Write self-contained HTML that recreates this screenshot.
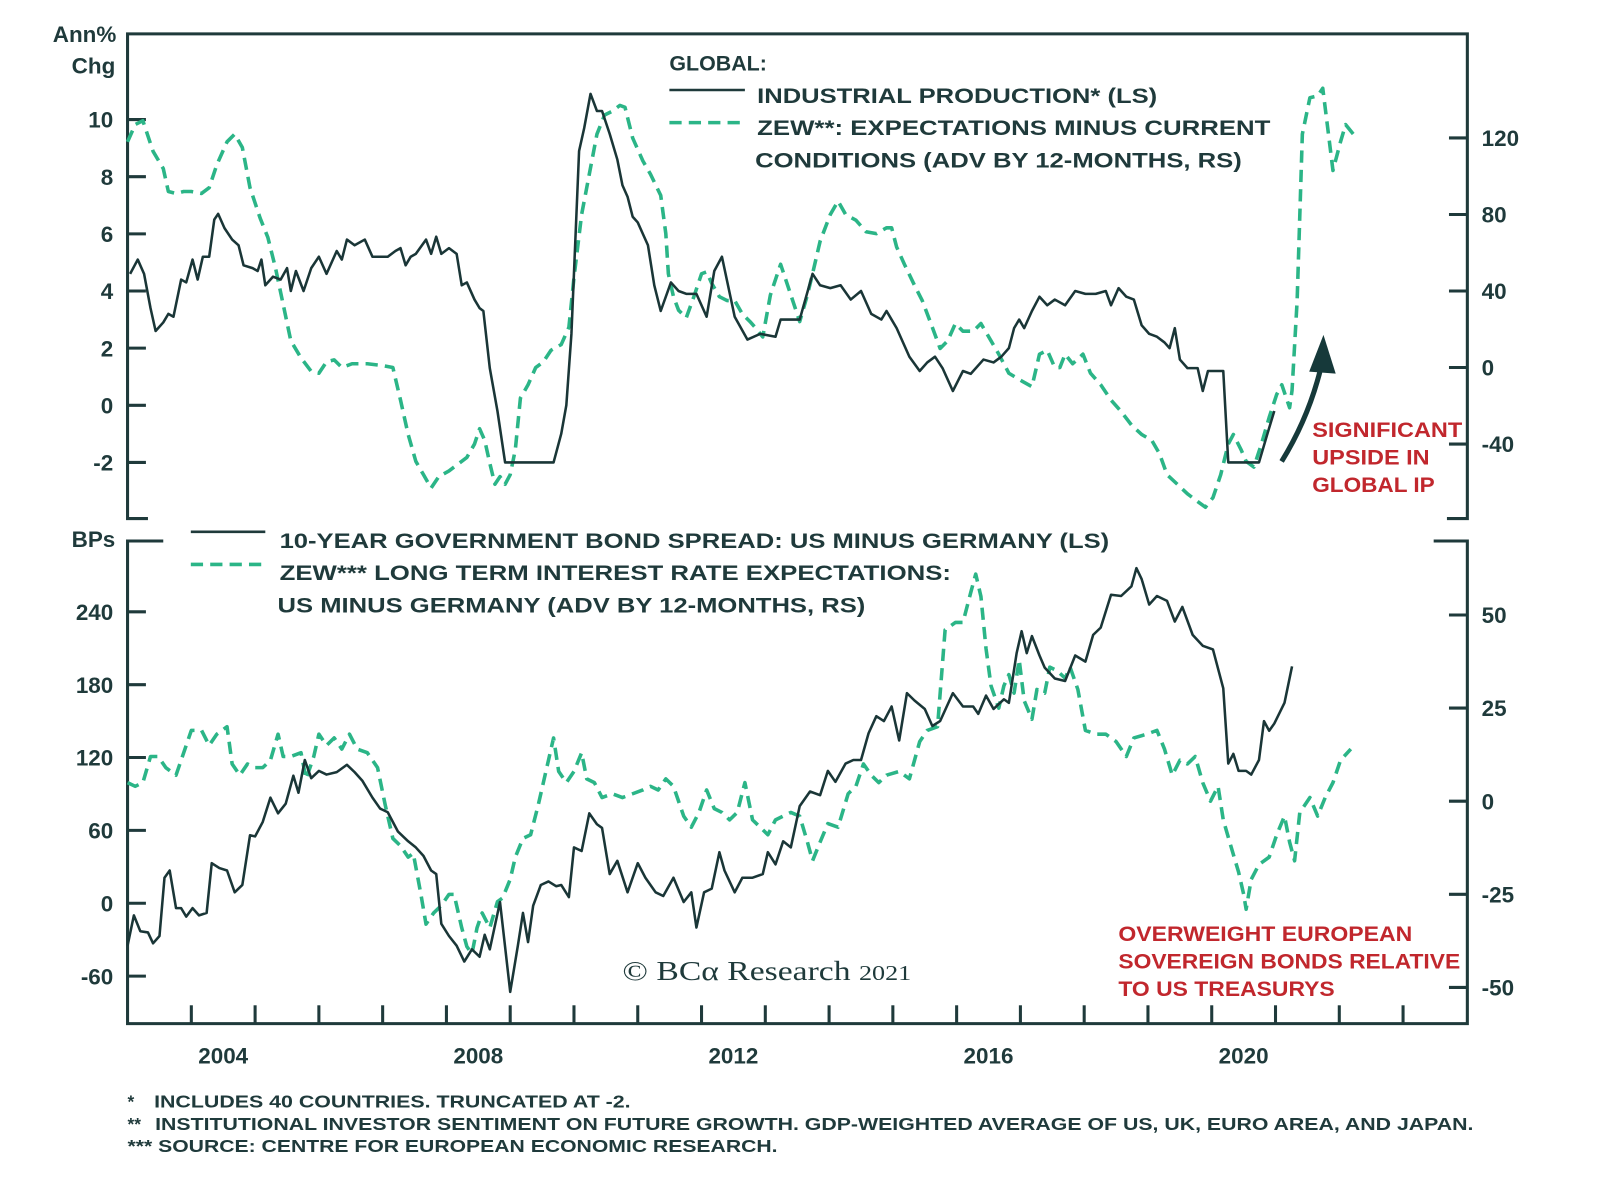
<!DOCTYPE html>
<html><head><meta charset="utf-8"><style>
html,body{margin:0;padding:0;background:#fff;}
svg{display:block;}
text{font-family:"Liberation Sans",Arial,sans-serif;font-weight:bold;fill:#1f3a3b;}
.red{fill:#c1272d;}
</style></head><body>
<svg id="chart" width="1600" height="1182" viewBox="0 0 1568 1158" xmlns="http://www.w3.org/2000/svg">
<g id="frame" stroke="#1f3a3b" stroke-width="3" fill="none">
  <path d="M145 508 H125 V33 H1438 V508 H1418"/>
  <path d="M160 530 H125 V1003 H1438 V530 H1405"/>
</g>
<g id="ticks" stroke="#1f3a3b" stroke-width="3"></g>
<g id="labels" font-size="22"></g>
<g id="series" fill="none"></g>

<text x="114" y="41" font-size="22" text-anchor="end">Ann%</text>
<text x="113" y="72" font-size="22" text-anchor="end">Chg</text>
<text x="113" y="536" font-size="22" text-anchor="end">BPs</text>

<g font-size="21">
  <text x="656" y="69">GLOBAL:</text>
  <line x1="656" y1="88" x2="730" y2="88" stroke="#1f3a3b" stroke-width="2.5"/>
  <text x="742" y="101" textLength="392" lengthAdjust="spacingAndGlyphs">INDUSTRIAL PRODUCTION* (LS)</text>
  <line x1="656" y1="120" x2="730" y2="120" stroke="#2bb587" stroke-width="3.5" stroke-dasharray="12 7"/>
  <text x="742" y="132" textLength="503" lengthAdjust="spacingAndGlyphs">ZEW**: EXPECTATIONS MINUS CURRENT</text>
  <text x="740" y="164" textLength="477" lengthAdjust="spacingAndGlyphs">CONDITIONS (ADV BY 12-MONTHS, RS)</text>
</g>
<g font-size="21">
  <line x1="187" y1="521" x2="260" y2="521" stroke="#1f3a3b" stroke-width="2.5"/>
  <text x="274" y="537" textLength="813" lengthAdjust="spacingAndGlyphs">10-YEAR GOVERNMENT BOND SPREAD: US MINUS GERMANY (LS)</text>
  <line x1="187" y1="553" x2="260" y2="553" stroke="#2bb587" stroke-width="3.5" stroke-dasharray="12 7"/>
  <text x="274" y="568" textLength="658" lengthAdjust="spacingAndGlyphs">ZEW*** LONG TERM INTEREST RATE EXPECTATIONS:</text>
  <text x="272" y="600" textLength="576" lengthAdjust="spacingAndGlyphs">US MINUS GERMANY (ADV BY 12-MONTHS, RS)</text>
</g>

<g font-size="21">
  <path d="M1256 452 Q1282 410 1294 362" stroke="#16393a" stroke-width="5" fill="none"/>
  <polygon points="1297,328 1283,364 1309,366" fill="#16393a"/>
  <text class="red" x="1286" y="428" textLength="147" lengthAdjust="spacingAndGlyphs">SIGNIFICANT</text>
  <text class="red" x="1286" y="455" textLength="115" lengthAdjust="spacingAndGlyphs">UPSIDE IN</text>
  <text class="red" x="1286" y="482" textLength="120" lengthAdjust="spacingAndGlyphs">GLOBAL IP</text>
</g>
<g font-size="21">
  <text class="red" x="1096" y="922" textLength="288" lengthAdjust="spacingAndGlyphs">OVERWEIGHT EUROPEAN</text>
  <text class="red" x="1096" y="949" textLength="335" lengthAdjust="spacingAndGlyphs">SOVEREIGN BONDS RELATIVE</text>
  <text class="red" x="1096" y="976" textLength="212" lengthAdjust="spacingAndGlyphs">TO US TREASURYS</text>
</g>
<text x="610" y="960" font-size="27" style="font-family:'Liberation Serif',serif;font-weight:normal" textLength="283" lengthAdjust="spacingAndGlyphs">© BCα Research <tspan font-size="21">2021</tspan></text>

<g font-size="17" style="font-weight:bold">
  <text x="125" y="1085">*</text>
  <text x="151" y="1085" textLength="467" lengthAdjust="spacingAndGlyphs">INCLUDES 40 COUNTRIES. TRUNCATED AT -2.</text>
  <text x="125" y="1107">**</text>
  <text x="152" y="1107" textLength="1292" lengthAdjust="spacingAndGlyphs">INSTITUTIONAL INVESTOR SENTIMENT ON FUTURE GROWTH. GDP-WEIGHTED AVERAGE OF US, UK, EURO AREA, AND JAPAN.</text>
  <text x="125" y="1129" textLength="637" lengthAdjust="spacingAndGlyphs">*** SOURCE: CENTRE FOR EUROPEAN ECONOMIC RESEARCH.</text>
</g>
</svg>
<script>
// ---- data ----
const ipDates=[2003.04,2003.16,2003.26,2003.36,2003.44,2003.56,2003.64,2003.72,2003.84,2003.92,2004.02,2004.10,2004.18,2004.28,2004.36,2004.42,2004.52,2004.64,2004.74,2004.82,2004.96,2005.04,2005.10,2005.16,2005.28,2005.40,2005.50,2005.56,2005.64,2005.76,2005.88,2006.0,2006.12,2006.28,2006.36,2006.44,2006.56,2006.72,2006.84,2007.08,2007.20,2007.28,2007.36,2007.44,2007.52,2007.68,2007.76,2007.84,2007.92,2008.04,2008.16,2008.24,2008.32,2008.44,2008.52,2008.58,2008.68,2008.80,2008.92,2009.68,2009.80,2009.88,2009.96,2010.08,2010.16,2010.26,2010.36,2010.44,2010.56,2010.68,2010.76,2010.84,2010.92,2011.0,2011.08,2011.16,2011.26,2011.36,2011.52,2011.64,2011.76,2011.92,2012.08,2012.20,2012.32,2012.52,2012.72,2012.92,2013.16,2013.24,2013.54,2013.74,2013.86,2014.02,2014.18,2014.34,2014.50,2014.66,2014.82,2014.90,2015.06,2015.26,2015.42,2015.54,2015.66,2015.78,2015.94,2016.10,2016.22,2016.42,2016.58,2016.70,2016.82,2016.90,2016.98,2017.06,2017.18,2017.30,2017.42,2017.54,2017.70,2017.86,2018.02,2018.18,2018.34,2018.42,2018.54,2018.66,2018.78,2018.90,2019.02,2019.14,2019.26,2019.34,2019.42,2019.50,2019.62,2019.78,2019.86,2019.94,2020.18,2020.26,2020.74,2020.86,2020.98];
const ipValues=[4.6,5.1,4.6,3.4,2.6,2.9,3.2,3.1,4.4,4.3,5.1,4.4,5.2,5.2,6.5,6.7,6.2,5.8,5.6,4.9,4.8,4.7,5.1,4.2,4.5,4.4,4.8,4.0,4.7,4.0,4.8,5.2,4.6,5.4,5.1,5.8,5.6,5.8,5.2,5.2,5.4,5.5,4.9,5.2,5.3,5.8,5.3,5.9,5.3,5.5,5.3,4.2,4.3,3.7,3.4,3.3,1.3,-0.2,-2,-2,-1,0,2.5,8.9,9.7,10.9,10.3,10.3,9.5,8.6,7.7,7.3,6.6,6.4,6.0,5.6,4.2,3.3,4.3,4.0,3.9,3.9,3.1,4.7,5.2,3.1,2.3,2.5,2.4,3.0,3.0,4.6,4.2,4.1,4.2,3.7,4.0,3.2,3.0,3.3,2.7,1.7,1.2,1.5,1.7,1.3,0.5,1.2,1.1,1.6,1.5,1.7,2.0,2.7,3.0,2.7,3.3,3.8,3.5,3.7,3.5,4.0,3.9,3.9,4.0,3.5,4.1,3.8,3.7,2.8,2.5,2.4,2.2,2.0,2.7,1.6,1.3,1.3,0.5,1.2,1.2,-2,-2,-1.1,-0.2];
const zewDates=[2003.0,2003.12,2003.24,2003.40,2003.56,2003.64,2003.76,2003.88,2004.0,2004.16,2004.28,2004.40,2004.56,2004.68,2004.80,2004.92,2005.08,2005.20,2005.32,2005.44,2005.56,2005.72,2005.88,2006.0,2006.12,2006.24,2006.36,2006.52,2006.76,2007.0,2007.16,2007.28,2007.40,2007.52,2007.64,2007.76,2007.88,2008.04,2008.20,2008.32,2008.44,2008.52,2008.60,2008.68,2008.76,2008.84,2008.92,2009.0,2009.08,2009.16,2009.28,2009.40,2009.52,2009.64,2009.80,2009.92,2010.0,2010.12,2010.24,2010.36,2010.48,2010.60,2010.72,2010.80,2010.92,2011.08,2011.20,2011.36,2011.44,2011.48,2011.56,2011.64,2011.76,2011.88,2012.0,2012.08,2012.16,2012.28,2012.40,2012.52,2012.64,2012.76,2012.84,2012.96,2013.08,2013.24,2013.54,2013.66,2013.74,2013.86,2014.02,2014.14,2014.26,2014.42,2014.58,2014.74,2014.90,2014.98,2015.06,2015.18,2015.34,2015.46,2015.62,2015.74,2015.86,2015.98,2016.10,2016.26,2016.38,2016.54,2016.66,2016.82,2017.02,2017.18,2017.30,2017.42,2017.54,2017.62,2017.70,2017.82,2017.98,2018.10,2018.26,2018.42,2018.58,2018.74,2018.90,2019.06,2019.18,2019.30,2019.46,2019.62,2019.78,2019.90,2020.02,2020.14,2020.26,2020.34,2020.46,2020.54,2020.66,2020.78,2020.90,2021.02,2021.10,2021.22,2021.26,2021.34,2021.42,2021.54,2021.66,2021.74,2021.82,2021.90,2022.02,2022.10,2022.22];
const zewValues=[118,127,129,113,104,92,91,92,92,91,94,106,118,122,115,94,78,68,52,33,14,5,-2,-3,3,4,0,2,2,1,0,-17,-35,-49,-56,-63,-57,-54,-50,-47,-40,-32,-38,-50,-61,-57,-61,-56,-43,-16,-9,0,3,9,12,21,47,80,101,122,132,134,137,136,120,108,101,90,70,49,37,30,26,37,49,50,44,37,35,35,28,24,21,16,38,54,24,38,49,66,80,87,80,77,71,70,73,73,63,54,43,35,21,10,14,23,19,19,23,14,7,-3,-7,-10,7,9,0,0,7,2,7,-3,-9,-17,-23,-30,-35,-38,-45,-56,-61,-66,-70,-73,-68,-56,-40,-35,-43,-49,-52,-40,-26,-14,-9,-21,-12,35,122,141,142,146,125,103,118,127,122];
const spreadDates=[2003.0,2003.10,2003.20,2003.32,2003.40,2003.50,2003.58,2003.66,2003.76,2003.84,2003.92,2004.02,2004.12,2004.24,2004.32,2004.44,2004.56,2004.68,2004.80,2004.92,2005.0,2005.12,2005.24,2005.36,2005.48,2005.60,2005.68,2005.78,2005.88,2006.0,2006.12,2006.28,2006.44,2006.56,2006.68,2006.84,2006.96,2007.08,2007.24,2007.40,2007.52,2007.64,2007.76,2007.84,2007.92,2008.04,2008.16,2008.28,2008.40,2008.52,2008.60,2008.68,2008.84,2009.0,2009.12,2009.20,2009.28,2009.36,2009.48,2009.60,2009.72,2009.80,2009.92,2010.0,2010.12,2010.24,2010.36,2010.44,2010.56,2010.68,2010.84,2011.0,2011.12,2011.28,2011.40,2011.56,2011.72,2011.84,2011.92,2012.04,2012.16,2012.28,2012.36,2012.52,2012.64,2012.80,2012.96,2013.04,2013.16,2013.28,2013.40,2013.54,2013.70,2013.86,2013.98,2014.10,2014.26,2014.38,2014.50,2014.62,2014.74,2014.86,2014.98,2015.10,2015.22,2015.34,2015.50,2015.62,2015.74,2015.94,2016.10,2016.26,2016.34,2016.46,2016.58,2016.74,2016.82,2016.94,2017.02,2017.10,2017.18,2017.30,2017.38,2017.54,2017.70,2017.86,2018.02,2018.14,2018.26,2018.42,2018.58,2018.74,2018.82,2018.90,2019.02,2019.14,2019.30,2019.42,2019.54,2019.70,2019.86,2020.02,2020.18,2020.26,2020.34,2020.42,2020.54,2020.62,2020.74,2020.82,2020.90,2020.98,2021.14,2021.26];
const spreadValues=[-35,-10,-23,-24,-33,-27,21,27,-4,-4,-11,-4,-10,-8,33,29,27,9,15,56,55,67,87,74,82,105,91,118,103,109,106,108,114,108,101,87,78,75,59,51,46,39,27,24,-17,-27,-35,-48,-38,-44,-26,-38,1,-73,-35,-8,-32,-2,15,18,14,15,5,46,43,74,65,62,24,35,9,33,21,9,6,21,1,9,-20,9,12,42,27,9,21,21,24,42,32,51,46,80,92,89,109,100,115,118,118,140,154,150,162,134,173,167,160,146,150,173,162,162,156,171,160,168,165,206,224,206,220,204,194,185,183,204,199,221,227,254,253,261,276,267,246,253,249,232,244,221,212,209,177,115,123,109,109,106,118,150,142,148,165,195];
const rateDates=[2003.0,2003.12,2003.24,2003.36,2003.48,2003.60,2003.76,2003.92,2004.0,2004.16,2004.28,2004.40,2004.56,2004.64,2004.76,2004.88,2005.0,2005.12,2005.24,2005.36,2005.44,2005.56,2005.72,2005.80,2005.92,2006.0,2006.12,2006.24,2006.36,2006.48,2006.60,2006.76,2006.92,2007.04,2007.16,2007.28,2007.40,2007.48,2007.60,2007.68,2007.80,2007.92,2008.04,2008.12,2008.24,2008.32,2008.40,2008.48,2008.56,2008.68,2008.80,2008.88,2009.0,2009.08,2009.20,2009.32,2009.44,2009.56,2009.68,2009.76,2009.88,2010.0,2010.12,2010.20,2010.32,2010.44,2010.60,2010.76,2010.92,2011.08,2011.20,2011.32,2011.44,2011.56,2011.72,2011.84,2011.96,2012.08,2012.20,2012.32,2012.44,2012.56,2012.68,2012.80,2012.92,2013.04,2013.16,2013.28,2013.40,2013.54,2013.66,2013.74,2013.86,2013.98,2014.14,2014.30,2014.42,2014.54,2014.66,2014.78,2014.90,2015.10,2015.26,2015.42,2015.54,2015.70,2015.82,2015.98,2016.10,2016.22,2016.30,2016.38,2016.46,2016.54,2016.66,2016.74,2016.82,2016.90,2016.98,2017.06,2017.18,2017.26,2017.38,2017.46,2017.58,2017.70,2017.78,2017.90,2018.02,2018.18,2018.34,2018.50,2018.66,2018.78,2018.98,2019.14,2019.26,2019.38,2019.50,2019.62,2019.74,2019.86,2019.98,2020.10,2020.18,2020.30,2020.42,2020.50,2020.54,2020.62,2020.74,2020.90,2021.02,2021.14,2021.22,2021.30,2021.38,2021.54,2021.66,2021.78,2021.90,2022.02,2022.18];
const rateValues=[5,4,5,12,12,9,7,15,19,19,15,18,20,10,7,10,9,9,11,18,12,12,13,6,12,18,15,17,14,18,14,13,9,-1,-10,-12,-15,-14,-25,-33,-30,-28,-25,-25,-34,-39,-41,-34,-30,-34,-27,-26,-21,-15,-10,-9,-1,8,17,8,5,8,13,6,5,1,2,1,2,3,4,3,6,4,-4,-7,-3,3,-2,-3,-5,-3,5,-5,-7,-9,-5,-4,-3,-4,-11,-16,-11,-6,-7,2,4,10,7,5,7,8,6,16,19,20,46,48,48,56,61,55,41,31,25,31,34,29,38,27,22,30,29,36,35,33,36,30,19,18,18,16,12,17,18,19,14,7,11,10,12,5,0,4,-5,-12,-19,-25,-29,-21,-17,-15,-9,-4,-11,-16,-3,1,-4,1,5,11,14];
const topLeftTicks=[10,8,6,4,2,0,-2];
const topRightTicks=[120,80,40,0,-40];
const botLeftTicks=[240,180,120,60,0,-60];
const botRightTicks=[50,25,0,-25,-50];
const yearLabels=[2004,2008,2012,2016,2020];
const yearTicks=[2004,2005,2006,2007,2008,2009,2010,2011,2012,2013,2014,2015,2016,2017,2018,2019,2020,2021,2022,2023];

// ---- scales ----
const NS="http://www.w3.org/2000/svg";
function xS(t){return 187.5+(t-2004)*62.5;}
function yTopL(v){return 397-28*v;}
function yTopR(v){return 360-1.875*v;}
function yBotL(v){return 885-71.4/60*v;}
function yBotR(v){return 785-3.65*v;}

const ticksG=document.getElementById('ticks');
const labelsG=document.getElementById('labels');
const seriesG=document.getElementById('series');
function mk(tag,attrs,parent){const e=document.createElementNS(NS,tag);for(const k in attrs)e.setAttribute(k,attrs[k]);parent.appendChild(e);return e;}

function yTicks(vals,scale,side){
  vals.forEach(v=>{
    const y=scale(v);
    const ln=mk('line',side==='L'?{x1:125,x2:143,y1:y,y2:y}:{x1:1420,x2:1438,y1:y,y2:y},ticksG);
    
    
    const tx=mk('text',side==='L'?{x:111,y:y+8,'text-anchor':'end'}:{x:1452,y:y+8,'text-anchor':'start'},labelsG);
    tx.textContent=String(v);
    
    
  });
}
yTicks(topLeftTicks,yTopL,'L');
yTicks(topRightTicks,yTopR,'R');
yTicks(botLeftTicks,yBotL,'L');
yTicks(botRightTicks,yBotR,'R');

yearTicks.forEach(yr=>{
  const x=xS(yr);
  const ln=mk('line',{x1:x,x2:x,y1:985,y2:1003},ticksG);
  
  
});
yearLabels.forEach(yr=>{
  const tx=mk('text',{x:xS(yr+0.5),y:1042,'text-anchor':'middle'},labelsG);
  tx.textContent=String(yr);
  
  
});

function drawLine(dates,vals,ys,style,name){
  const d=dates.map((t,i)=>(i?'L':'M')+xS(t).toFixed(1)+' '+ys(vals[i]).toFixed(1)).join(' ');
  const p=mk('path',Object.assign({d:d,'stroke-linejoin':'round'},style),seriesG);
  
  
}
const greenStyle={stroke:'#2bb587','stroke-width':3.5,'stroke-dasharray':'12 7'};
const darkStyle={stroke:'#1a3637','stroke-width':2.5};
drawLine(zewDates,zewValues,yTopR,greenStyle,'zew-expectations-line');
drawLine(ipDates,ipValues,yTopL,darkStyle,'industrial-production-line');
drawLine(rateDates,rateValues,yBotR,greenStyle,'zew-rate-expectations-line');
drawLine(spreadDates,spreadValues,yBotL,darkStyle,'bond-spread-line');
</script>
</body></html>
